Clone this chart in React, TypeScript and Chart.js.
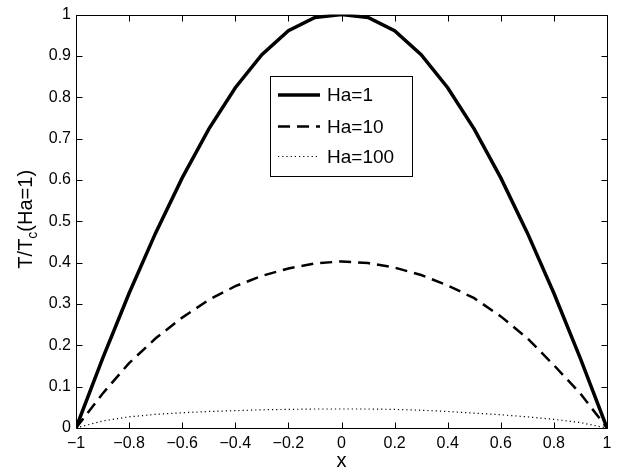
import React, { useEffect, useRef } from "react";
import { Chart, registerables } from "chart.js";

Chart.register(...registerables);

const xValues = [-1, -0.9, -0.8, -0.7, -0.6, -0.5, -0.4, -0.3, -0.2, -0.1, 0, 0.1, 0.2, 0.3, 0.4, 0.5, 0.6, 0.7, 0.8, 0.9, 1];
const ha1 = [0, 0.168, 0.326, 0.472, 0.605, 0.723, 0.823, 0.903, 0.961, 0.993, 1.0, 0.993, 0.961, 0.903, 0.823, 0.723, 0.605, 0.472, 0.326, 0.168, 0];
const ha10 = [0, 0.083, 0.157, 0.217, 0.267, 0.31, 0.343, 0.368, 0.386, 0.398, 0.403, 0.399, 0.388, 0.37, 0.345, 0.314, 0.27, 0.217, 0.152, 0.083, 0];
const ha100 = [0, 0.017, 0.027, 0.033, 0.037, 0.04, 0.042, 0.044, 0.045, 0.046, 0.046, 0.046, 0.045, 0.043, 0.04, 0.036, 0.032, 0.027, 0.021, 0.013, 0];
const seriesLabels = ["Ha=1", "Ha=10", "Ha=100"];
const xTitle = "x";
const yTitleParts = ["T/T", "c", "(Ha=1)"];

const FONT = "'Liberation Sans', Arial, Helvetica, sans-serif";

const fmt = (v: number) => {
  const r = Math.round(v * 10) / 10;
  if (r === 0) return "0";
  const s = String(Math.abs(r));
  return r < 0 ? "\u2212" + s : s;
};

const framePlugin = {
  id: "matlabFrame",
  afterDatasetsDraw(chart: any) {
    const { ctx, chartArea: a, scales } = chart;
    const xs = scales.x;
    const ys = scales.y;
    const L = Math.round(a.left) + 0.5;
    const R = Math.round(a.right) + 0.5;
    const T = Math.round(a.top) + 0.5;
    const B = Math.round(a.bottom) + 0.5;
    const tl = 6;
    ctx.save();
    ctx.strokeStyle = "#000";
    ctx.lineWidth = 1;
    ctx.setLineDash([]);
    ctx.beginPath();
    ctx.rect(L, T, R - L, B - T);
    xs.ticks.forEach((t: any) => {
      const px = Math.round(xs.getPixelForValue(t.value)) + 0.5;
      ctx.moveTo(px, B);
      ctx.lineTo(px, B - tl);
      ctx.moveTo(px, T);
      ctx.lineTo(px, T + tl);
    });
    ys.ticks.forEach((t: any) => {
      const py = Math.round(ys.getPixelForValue(t.value)) + 0.5;
      ctx.moveTo(L, py);
      ctx.lineTo(L + tl, py);
      ctx.moveTo(R, py);
      ctx.lineTo(R - tl, py);
    });
    ctx.stroke();

    // legend
    const lx0 = 270.5, ly0 = 76.5, lw = 142, lh = 100;
    ctx.fillStyle = "#fff";
    ctx.fillRect(lx0, ly0, lw, lh);
    ctx.strokeRect(lx0, ly0, lw, lh);
    const rows = [95, 126.5, 156.5];
    chart.data.datasets.forEach((ds: any, i: number) => {
      const y = rows[i];
      ctx.save();
      ctx.strokeStyle = ds.borderColor;
      ctx.lineWidth = ds.borderWidth;
      ctx.setLineDash(ds.borderDash || []);
      ctx.beginPath();
      ctx.moveTo(278, y);
      ctx.lineTo(320, y);
      ctx.stroke();
      ctx.restore();
      ctx.fillStyle = "#000";
      ctx.font = `19px ${FONT}`;
      ctx.textAlign = "left";
      ctx.textBaseline = "middle";
      ctx.fillText(ds.label, 327, y + 1);
    });

    // x title
    ctx.fillStyle = "#000";
    ctx.font = `20px ${FONT}`;
    ctx.textAlign = "center";
    ctx.textBaseline = "alphabetic";
    ctx.fillText(xTitle, (a.left + a.right) / 2, 467);

    // y title with subscript
    ctx.save();
    const cy = (a.top + a.bottom) / 2;
    ctx.translate(32, cy - 2);
    ctx.rotate(-Math.PI / 2);
    const big = `20px ${FONT}`;
    const small = `14px ${FONT}`;
    ctx.font = big;
    const w1 = ctx.measureText(yTitleParts[0]).width;
    const w3 = ctx.measureText(yTitleParts[2]).width;
    ctx.font = small;
    const w2 = ctx.measureText(yTitleParts[1]).width;
    const total = w1 + w2 + w3;
    let x = -total / 2;
    ctx.textAlign = "left";
    ctx.font = big;
    ctx.fillText(yTitleParts[0], x, 0);
    x += w1;
    ctx.font = small;
    ctx.fillText(yTitleParts[1], x, 5);
    x += w2;
    ctx.font = big;
    ctx.fillText(yTitleParts[2], x, 0);
    ctx.restore();
    ctx.restore();
  },
};

export default function App() {
  const ref = useRef<HTMLCanvasElement>(null);
  useEffect(() => {
    document.body.style.margin = "0";
    const canvas = ref.current;
    if (!canvas) return;
    const toPts = (ys: number[]) => xValues.map((x, i) => ({ x, y: ys[i] }));
    const chart = new Chart(canvas, {
      type: "line",
      data: {
        datasets: [
          { label: seriesLabels[0], data: toPts(ha1), borderColor: "#000", borderWidth: 3.5, borderDash: [], pointRadius: 0, tension: 0, fill: false },
          { label: seriesLabels[1], data: toPts(ha10), borderColor: "#000", borderWidth: 2.5, borderDash: [12, 7], pointRadius: 0, tension: 0, fill: false },
          { label: seriesLabels[2], data: toPts(ha100), borderColor: "#000", borderWidth: 1.2, borderDash: [1.2, 3], pointRadius: 0, tension: 0, fill: false },
        ],
      },
      options: {
        responsive: false,
        animation: false,
        devicePixelRatio: 1,
        layout: { padding: { left: 0, top: 10, right: 18, bottom: 0 } },
        plugins: { legend: { display: false }, tooltip: { enabled: false } },
        scales: {
          x: {
            type: "linear",
            min: -1,
            max: 1,
            grid: { display: false, drawTicks: false },
            border: { display: false },
            ticks: {
              stepSize: 0.2,
              color: "#000",
              padding: 6,
              maxRotation: 0,
              font: { family: FONT, size: 16 },
              callback: (v: any) => fmt(Number(v)),
            },
            afterFit: (s: any) => {
              s.height = 42;
            },
          },
          y: {
            type: "linear",
            min: 0,
            max: 1,
            grid: { display: false, drawTicks: false },
            border: { display: false },
            ticks: {
              stepSize: 0.1,
              color: "#000",
              padding: 5,
              font: { family: FONT, size: 16 },
              callback: (v: any) => fmt(Number(v)),
            },
            afterFit: (s: any) => {
              s.width = 76;
            },
          },
        },
      },
      plugins: [framePlugin],
    });
    return () => chart.destroy();
  }, []);
  return <canvas ref={ref} width={625} height={470} style={{ display: "block" }} />;
}
